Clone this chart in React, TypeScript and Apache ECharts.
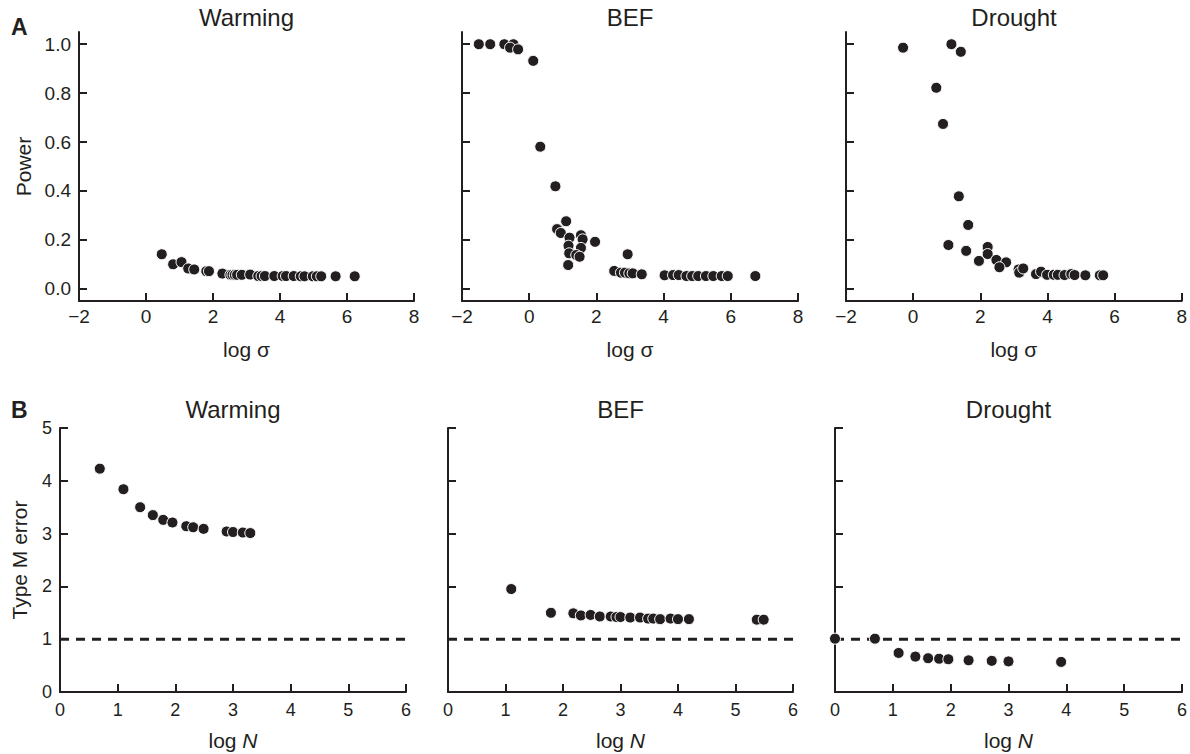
import React, { useEffect, useRef } from "react";
import * as echarts from "echarts";

const FONT = '"Liberation Sans", Arial, Helvetica, sans-serif';
const INK = "#231f20";

// Panel titles and row labels
const panelTitles = ["Warming", "BEF", "Drought"];
const rowLetters = ["A", "B"];

// Row A: power vs log sigma
const warmSigmaX = [0.47, 0.81, 1.06, 1.26, 1.44, 1.8, 1.88, 2.28, 2.52, 2.58, 2.65, 2.72, 2.86, 3.11, 3.35, 3.45, 3.55, 3.83, 4.08, 4.18, 4.41, 4.62, 4.73, 4.98, 5.1, 5.23, 5.66, 6.23];
const warmPower = [0.141, 0.1, 0.109, 0.083, 0.079, 0.072, 0.072, 0.062, 0.057, 0.057, 0.057, 0.057, 0.057, 0.058, 0.052, 0.052, 0.052, 0.052, 0.052, 0.052, 0.052, 0.051, 0.051, 0.051, 0.051, 0.051, 0.051, 0.051];

const befSigmaX = [-1.5, -1.16, -0.74, -0.47, -0.57, -0.33, 0.12, 0.33, 0.78, 1.1, 0.83, 0.94, 1.2, 1.54, 1.59, 1.96, 1.17, 1.54, 1.19, 1.4, 1.5, 1.16, 2.93, 2.53, 2.73, 2.85, 2.98, 3.08, 3.35, 4.03, 4.28, 4.45, 4.68, 4.85, 5.03, 5.26, 5.48, 5.73, 5.91, 6.73];
const befPower = [1.0, 1.0, 1.0, 1.0, 0.986, 0.979, 0.932, 0.581, 0.419, 0.276, 0.244, 0.228, 0.209, 0.219, 0.202, 0.192, 0.176, 0.167, 0.145, 0.138, 0.131, 0.097, 0.141, 0.073, 0.066, 0.066, 0.063, 0.063, 0.059, 0.055, 0.056, 0.056, 0.052, 0.052, 0.052, 0.052, 0.052, 0.052, 0.052, 0.052];

const drySigmaX = [-0.3, 1.14, 1.42, 0.69, 0.89, 1.36, 1.64, 1.05, 1.58, 2.22, 2.22, 1.96, 2.48, 2.77, 2.57, 3.14, 3.16, 3.28, 3.66, 3.81, 3.99, 4.19, 4.31, 4.51, 4.71, 4.81, 5.13, 5.56, 5.66];
const dryPower = [0.986, 1.0, 0.969, 0.822, 0.674, 0.378, 0.261, 0.179, 0.155, 0.171, 0.142, 0.114, 0.118, 0.108, 0.088, 0.079, 0.066, 0.083, 0.06, 0.07, 0.057, 0.057, 0.057, 0.056, 0.06, 0.056, 0.055, 0.055, 0.055];

// Row B: type M error vs log N
const warmNX = [0.69, 1.1, 1.39, 1.61, 1.79, 1.95, 2.19, 2.31, 2.49, 2.89, 3.0, 3.17, 3.3];
const warmTypeM = [4.23, 3.84, 3.5, 3.35, 3.26, 3.21, 3.14, 3.12, 3.09, 3.04, 3.03, 3.02, 3.01];

const befNX = [1.1, 1.79, 2.18, 2.31, 2.48, 2.64, 2.83, 2.93, 3.0, 3.17, 3.34, 3.48, 3.57, 3.69, 3.87, 4.0, 4.19, 5.37, 5.49];
const befTypeM = [1.95, 1.5, 1.49, 1.45, 1.46, 1.43, 1.43, 1.42, 1.42, 1.41, 1.41, 1.39, 1.39, 1.38, 1.39, 1.38, 1.38, 1.37, 1.37];

const dryNX = [0.0, 0.69, 1.1, 1.39, 1.61, 1.8, 1.96, 2.31, 2.71, 3.0, 3.91];
const dryTypeM = [1.01, 1.01, 0.74, 0.67, 0.64, 0.63, 0.62, 0.6, 0.59, 0.58, 0.57];

// Reference line (type M error = 1)
const refLineX = [0, 6];
const refLineY = 1;

// Tick values
const powerTicks = [0, 0.2, 0.4, 0.6, 0.8, 1.0];

const topPanels = [
  { xs: warmSigmaX, ys: warmPower },
  { xs: befSigmaX, ys: befPower },
  { xs: drySigmaX, ys: dryPower },
];
const bottomPanels = [
  { xs: warmNX, ys: warmTypeM },
  { xs: befNX, ys: befTypeM },
  { xs: dryNX, ys: dryTypeM },
];

const topGrids = [
  { left: 79, width: 335 },
  { left: 462, width: 336 },
  { left: 846, width: 336 },
];
const bottomGrids = [
  { left: 60, width: 346 },
  { left: 448, width: 345 },
  { left: 835, width: 347 },
];

const minusFmt = (v: number) => (v < 0 ? "\u2212" + Math.abs(v) : String(v));

export default function App() {
  const ref = useRef<HTMLDivElement>(null);

  useEffect(() => {
    if (!ref.current) return;
    const chart = echarts.init(ref.current, undefined, { renderer: "svg" });

    const grid: any[] = [];
    const xAxis: any[] = [];
    const yAxis: any[] = [];
    const series: any[] = [];

    const axisLine = { show: true, onZero: false, lineStyle: { color: INK, width: 2 } };
    const scatterStyle = {
      color: INK,
      opacity: 1,
      borderColor: "#ffffff",
      borderWidth: 1,
    };

    topPanels.forEach((p, i) => {
      grid.push({ left: topGrids[i].left, width: topGrids[i].width, top: 32, height: 269 });
      xAxis.push({
        type: "value",
        gridIndex: i,
        min: -2,
        max: 8,
        interval: 2,
        axisLine,
        axisTick: { show: true, inside: true, length: 8, lineStyle: { color: INK, width: 2 } },
        axisLabel: { show: true, margin: 6, color: INK, fontSize: 19, fontFamily: FONT, formatter: minusFmt },
        splitLine: { show: false },
        name: "log \u03c3",
        nameLocation: "middle",
        nameGap: 38,
        nameTextStyle: { color: INK, fontSize: 21, fontFamily: FONT },
      });
      yAxis.push({
        type: "value",
        gridIndex: i,
        min: -0.05,
        max: 1.05,
        axisLine,
        axisTick: { show: true, inside: true, length: 8, customValues: powerTicks, lineStyle: { color: INK, width: 2 } },
        axisLabel: {
          show: i === 0,
          customValues: powerTicks,
          margin: 8,
          color: INK,
          fontSize: 19,
          fontFamily: FONT,
          formatter: (v: number) => v.toFixed(1),
        },
        splitLine: { show: false },
        name: i === 0 ? "Power" : "",
        nameLocation: "middle",
        nameGap: 45,
        nameTextStyle: { color: INK, fontSize: 21, fontFamily: FONT },
      });
      series.push({
        type: "scatter",
        xAxisIndex: i,
        yAxisIndex: i,
        symbolSize: 11,
        itemStyle: scatterStyle,
        data: p.xs.map((x, k) => [x, p.ys[k]]),
        z: 3,
      });
    });

    bottomPanels.forEach((p, j) => {
      const i = j + 3;
      grid.push({ left: bottomGrids[j].left, width: bottomGrids[j].width, top: 428, height: 264 });
      xAxis.push({
        type: "value",
        gridIndex: i,
        min: 0,
        max: 6,
        interval: 1,
        axisLine,
        axisTick: { show: true, inside: true, length: 8, lineStyle: { color: INK, width: 2 } },
        axisLabel: { show: true, margin: 9, color: INK, fontSize: 18, fontFamily: FONT },
        splitLine: { show: false },
        name: "log {i|N}",
        nameLocation: "middle",
        nameGap: 38,
        nameTextStyle: {
          color: INK,
          fontSize: 21,
          fontFamily: FONT,
          rich: { i: { fontStyle: "italic", fontSize: 21, fontFamily: FONT, color: INK } },
        },
      });
      yAxis.push({
        type: "value",
        gridIndex: i,
        min: 0,
        max: 5,
        interval: 1,
        axisLine,
        axisTick: { show: true, inside: true, length: 8, lineStyle: { color: INK, width: 2 } },
        axisLabel: { show: j === 0, margin: 8, color: INK, fontSize: 18, fontFamily: FONT },
        splitLine: { show: false },
        name: j === 0 ? "Type M error" : "",
        nameLocation: "middle",
        nameGap: 30,
        nameTextStyle: { color: INK, fontSize: 21, fontFamily: FONT },
      });
      series.push({
        type: "line",
        xAxisIndex: i,
        yAxisIndex: i,
        symbol: "none",
        silent: true,
        lineStyle: { color: INK, width: 3, type: [9, 7] },
        data: refLineX.map((x) => [x, refLineY]),
        z: 2,
      });
      series.push({
        type: "scatter",
        xAxisIndex: i,
        yAxisIndex: i,
        symbolSize: 11,
        itemStyle: scatterStyle,
        data: p.xs.map((x, k) => [x, p.ys[k]]),
        z: 3,
      });
    });

    const graphic: any[] = [];
    panelTitles.forEach((t, i) => {
      graphic.push({
        type: "text",
        x: topGrids[i].left + topGrids[i].width / 2,
        y: 17,
        style: { text: t, fill: INK, font: `24px ${FONT}`, textAlign: "center", textVerticalAlign: "middle" },
      });
      graphic.push({
        type: "text",
        x: bottomGrids[i].left + bottomGrids[i].width / 2,
        y: 409,
        style: { text: t, fill: INK, font: `24px ${FONT}`, textAlign: "center", textVerticalAlign: "middle" },
      });
    });
    graphic.push({
      type: "text",
      x: 11,
      y: 27,
      style: { text: rowLetters[0], fill: INK, font: `bold 23px ${FONT}`, textAlign: "left", textVerticalAlign: "middle" },
    });
    graphic.push({
      type: "text",
      x: 11,
      y: 410,
      style: { text: rowLetters[1], fill: INK, font: `bold 23px ${FONT}`, textAlign: "left", textVerticalAlign: "middle" },
    });

    chart.setOption({
      animation: false,
      backgroundColor: "#ffffff",
      textStyle: { fontFamily: FONT },
      grid,
      xAxis,
      yAxis,
      series,
      graphic,
    });

    return () => chart.dispose();
  }, []);

  return (
    <div
      ref={ref}
      style={{ position: "absolute", left: 0, top: 0, width: 1190, height: 754, background: "#fff" }}
    />
  );
}
